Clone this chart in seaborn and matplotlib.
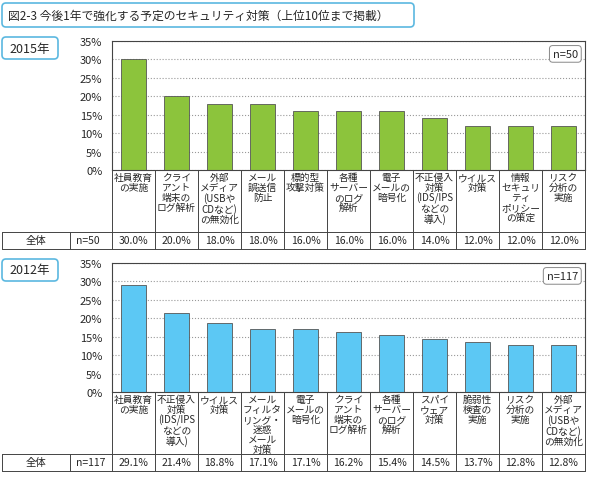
import matplotlib
matplotlib.use("Agg")
import matplotlib.pyplot as plt
import seaborn as sns
import pandas as pd
from matplotlib.patches import FancyBboxPatch

sns.set_style("white")
plt.rcParams['font.family'] = ['Noto Sans CJK JP', 'DejaVu Sans']

title = "図2-3 今後1年で強化する予定のセキュリティ対策（上位10位まで掲載）"
cats_2015 = ["社員教育\nの実施", "クライ\nアント\n端末の\nログ解析", "外部\nメディア\n(USBや\nCDなど)\nの無効化",
             "メール\n誤送信\n防止", "標的型\n攻撃対策", "各種\nサーバー\nのログ\n解析", "電子\nメールの\n暗号化",
             "不正侵入\n対策\n(IDS/IPS\nなどの\n導入)", "ウイルス\n対策", "情報\nセキュリ\nティ\nポリシー\nの策定",
             "リスク\n分析の\n実施"]
vals_2015 = [30.0, 20.0, 18.0, 18.0, 16.0, 16.0, 16.0, 14.0, 12.0, 12.0, 12.0]
cats_2012 = ["社員教育\nの実施", "不正侵入\n対策\n(IDS/IPS\nなどの\n導入)", "ウイルス\n対策",
             "メール\nフィルタ\nリング・\n迷惑\nメール\n対策", "電子\nメールの\n暗号化", "クライ\nアント\n端末の\nログ解析",
             "各種\nサーバー\nのログ\n解析", "スパイ\nウェア\n対策", "脆弱性\n検査の\n実施", "リスク\n分析の\n実施",
             "外部\nメディア\n(USBや\nCDなど)\nの無効化"]
vals_2012 = [29.1, 21.4, 18.8, 17.1, 17.1, 16.2, 15.4, 14.5, 13.7, 12.8, 12.8]
yticks = [0, 5, 10, 15, 20, 25, 30, 35]

W, H = 590, 485
fig = plt.figure(figsize=(W/100, H/100), dpi=100)
ov = fig.add_axes([0, 0, 1, 1], zorder=5)
ov.set_xlim(0, W); ov.set_ylim(H, 0); ov.axis("off"); ov.patch.set_alpha(0)

def fx(x): return x / W
def fy(y): return 1 - y / H

def rbox(x, y, w, h):
    ov.add_patch(FancyBboxPatch((x, y), w, h, boxstyle="round,pad=0,rounding_size=4",
                                fc="white", ec="#5bb8e0", lw=1.2))

rbox(2, 4, 412, 24)
ov.text(8, 16, title, fontsize=8.5, va="center", ha="left")

def panel(label, n, top, bot, cats, vals, color):
    x0, x1 = 112, 585
    rbox(2, top - 4, 56, 22)
    ov.text(30, top + 7, label, fontsize=9, ha="center", va="center")
    ax = fig.add_axes([fx(x0), fy(bot), fx(x1) - fx(x0), fy(top) - fy(bot)])
    df = pd.DataFrame({"c": range(len(cats)), "v": vals})
    sns.barplot(data=df, x="c", y="v", color=color, width=0.58, edgecolor="#555555",
                linewidth=0.6, ax=ax, saturation=1)
    ax.set_ylim(0, 35)
    ax.set_xlim(-0.5, len(cats) - 0.5)
    ax.set_yticks(yticks)
    ax.set_yticklabels([f"{t}%" for t in yticks], fontsize=8)
    ax.set_xticks([]); ax.set_xlabel(""); ax.set_ylabel("")
    ax.yaxis.grid(True, ls=":", color="#999999", lw=0.8)
    ax.set_axisbelow(True)
    for s in ax.spines.values():
        s.set_color("#444444"); s.set_linewidth(0.8)
    ax.text(0.985, 0.9, f"n={n}", transform=ax.transAxes, ha="right", va="center", fontsize=8,
            bbox=dict(fc="white", ec="#888888", lw=0.7, boxstyle="round,pad=0.3"))
    cw = (x1 - x0) / len(cats)
    lab_bot = bot + 62
    row_bot = lab_bot + 17
    for i, (c, v) in enumerate(zip(cats, vals)):
        cx = x0 + cw * (i + 0.5)
        ov.text(cx, bot + 2, c, fontsize=7, ha="center", va="top", linespacing=1.0)
        ov.text(cx, (lab_bot + row_bot) / 2, f"{v:.1f}%", fontsize=7.5, ha="center", va="center")
        ov.plot([x0 + cw * i] * 2, [bot, row_bot], color="#444444", lw=0.7)
    ov.plot([x1, x1], [bot, row_bot], color="#444444", lw=0.7)
    ov.plot([2, x1], [lab_bot, lab_bot], color="#444444", lw=0.7)
    ov.plot([2, x1], [row_bot, row_bot], color="#444444", lw=0.7)
    ov.plot([2, 2], [lab_bot, row_bot], color="#444444", lw=0.7)
    ov.plot([70, 70], [lab_bot, row_bot], color="#444444", lw=0.7)
    ov.text(36, (lab_bot + row_bot) / 2, "全体", fontsize=7.5, ha="center", va="center")
    ov.text(76, (lab_bot + row_bot) / 2, f"n={n}", fontsize=7.5, ha="left", va="center")

panel("2015年", 50, 42, 171, cats_2015, vals_2015, "#8cc43c")
panel("2012年", 117, 264, 393, cats_2012, vals_2012, "#5cc8f4")

fig.savefig("out.png", dpi=100)
